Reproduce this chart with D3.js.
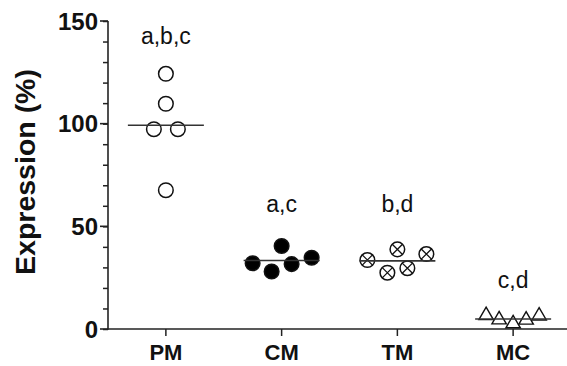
<!DOCTYPE html>
<head>
  <title>Expression (%)</title>
  <style>
    body { margin: 0; background: #fff; }
    text { font-family: "Liberation Sans", Arial, sans-serif; fill: #111; }
  </style>
</head>
<body>
<script src="https://cdn.jsdelivr.net/npm/d3@7"></script>
<script>
  // groups on the x axis
  var categories = ["PM", "CM", "TM", "MC"];

  // the five replicate values per group
  var pmValues = [124.3, 109.7, 97.3, 97.3, 67.6];
  var cmValues = [32, 40.4, 28, 31.6, 34.7];
  var tmValues = [33.6, 38.8, 27.4, 29.6, 36.5];
  var mcValues = [6.6, 4.5, 2.6, 4.4, 6.4];

  // significance letters and the value they sit at
  var letters = ["a,b,c", "a,c", "b,d", "c,d"];
  var letterAt = [139, 57, 57, 20];

  var yTicks = [0, 50, 100, 150];

  // horizontal spread of dots inside a group, in px (layout only)
  var spread = [
    [0, 0, -12, 12, 0],
    [-29, 0, -10, 10, 30],
    [-30, 0, -10, 10, 29],
    [-27, -14, 0, 13, 26]
  ];
  var markers = ["open", "filled", "cross", "triangle"];

  var groups = [pmValues, cmValues, tmValues, mcValues];

  var width = 567, height = 366;
  var svg = d3.select("body").append("svg")
      .attr("width", width)
      .attr("height", height);

  var x = d3.scalePoint().domain(categories).range([108, 571]).padding(0.5);
  var y = d3.scaleLinear().domain([0, 150]).range([329, 21]);

  // y axis with minor ticks every 10
  var yAxis = svg.append("g").attr("transform", "translate(108,0)");
  yAxis.call(d3.axisLeft(y).tickValues(d3.range(0, 151, 10)).tickSize(5).tickFormat(""));
  yAxis.selectAll(".tick line").attr("stroke", "#222").attr("stroke-width", 1.5);
  yAxis.select(".domain").remove();
  yAxis.append("line")
      .attr("x1", 0).attr("x2", 0)
      .attr("y1", y(150)).attr("y2", y(0) + 0.75)
      .attr("stroke", "#222").attr("stroke-width", 1.6);
  yTicks.forEach(function (t) {
    yAxis.append("line")
        .attr("x1", -8).attr("x2", 0)
        .attr("y1", y(t)).attr("y2", y(t))
        .attr("stroke", "#222").attr("stroke-width", 1.6);
    yAxis.append("text")
        .attr("x", -10).attr("y", y(t))
        .attr("dy", "0.36em")
        .attr("text-anchor", "end")
        .style("font-size", "24px")
        .style("font-weight", "bold")
        .text(t);
  });

  // x axis
  var xAxis = svg.append("g").attr("transform", "translate(0," + y(0) + ")");
  xAxis.append("line")
      .attr("x1", 107).attr("x2", width)
      .attr("stroke", "#222").attr("stroke-width", 1.6);
  xAxis.selectAll(".xt")
      .data(categories)
      .enter().append("line")
      .attr("x1", function (d) { return x(d); })
      .attr("x2", function (d) { return x(d); })
      .attr("y1", 0).attr("y2", 7)
      .attr("stroke", "#222").attr("stroke-width", 1.5);
  xAxis.selectAll(".xl")
      .data(categories)
      .enter().append("text")
      .attr("x", function (d) { return x(d); })
      .attr("y", 31)
      .attr("text-anchor", "middle")
      .style("font-size", "22px")
      .style("font-weight", "bold")
      .text(function (d) { return d; });

  // y axis title
  svg.append("text")
      .attr("transform", "translate(35," + 172 + ") rotate(-90)")
      .attr("text-anchor", "middle")
      .style("font-size", "28.5px")
      .style("font-weight", "bold")
      .text("Expression (%)");

  var points = [];
  groups.forEach(function (vals, i) {
    vals.forEach(function (v, j) {
      points.push({cat: categories[i], value: v, dx: spread[i][j], kind: markers[i]});
    });
  });

  var r = 7.3;
  var dots = svg.selectAll(".pt")
      .data(points)
      .enter().append("g")
      .attr("class", "pt")
      .attr("transform", function (d) {
        return "translate(" + (x(d.cat) + d.dx) + "," + y(d.value) + ")";
      });

  dots.filter(function (d) { return d.kind !== "triangle"; })
      .append("circle")
      .attr("r", r)
      .attr("fill", function (d) { return d.kind === "filled" ? "#000" : "#fff"; })
      .attr("stroke", "#111")
      .attr("stroke-width", 1.5);

  dots.filter(function (d) { return d.kind === "cross"; })
      .append("path")
      .attr("d", function () {
        var k = r * 0.7;
        return "M" + (-k) + "," + (-k) + "L" + k + "," + k + "M" + (-k) + "," + k + "L" + k + "," + (-k);
      })
      .attr("stroke", "#111")
      .attr("stroke-width", 1.3);

  dots.filter(function (d) { return d.kind === "triangle"; })
      .append("path")
      .attr("d", d3.symbol(d3.symbolTriangle).size(90))
      .attr("fill", "#fff")
      .attr("stroke", "#111")
      .attr("stroke-width", 1.4);

  // mean lines
  svg.selectAll(".mean")
      .data(groups)
      .enter().append("line")
      .attr("x1", function (d, i) { return x(categories[i]) - 38; })
      .attr("x2", function (d, i) { return x(categories[i]) + 38; })
      .attr("y1", function (d) { return y(d3.mean(d)); })
      .attr("y2", function (d) { return y(d3.mean(d)); })
      .attr("stroke", "#333")
      .attr("stroke-width", 1.6);

  // significance letters
  svg.selectAll(".letter")
      .data(letters)
      .enter().append("text")
      .attr("x", function (d, i) { return x(categories[i]); })
      .attr("y", function (d, i) { return y(letterAt[i]); })
      .attr("text-anchor", "middle")
      .style("font-size", "23px")
      .text(function (d) { return d; });
</script>
</body>
